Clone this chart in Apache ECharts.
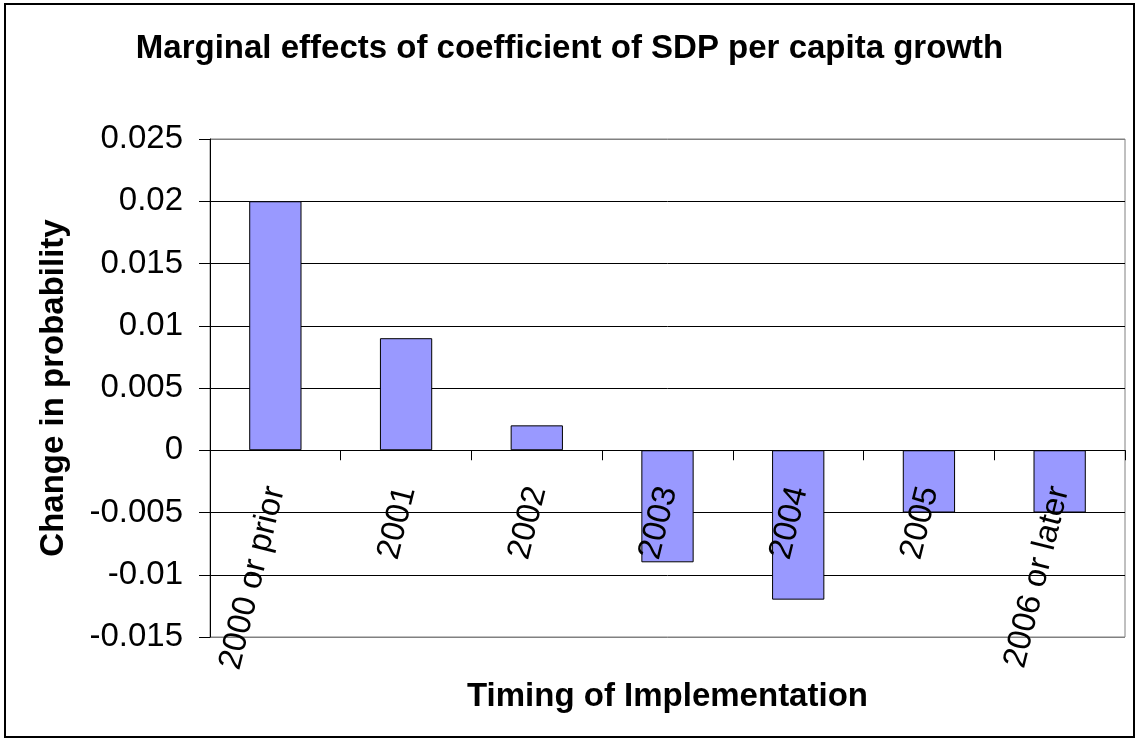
<!DOCTYPE html>
<html>
<head>
<meta charset="utf-8">
<script src="https://cdn.jsdelivr.net/npm/echarts@6/dist/echarts.min.js"></script>
<style>
  html, body { margin: 0; padding: 0; background: #fff; }
  #chart { width: 1139px; height: 742px; }
</style>
</head>
<body>
<div id="chart"></div>
<script>
// Marginal effect of SDP per capita growth by timing of implementation
const categories = ['2000 or prior', '2001', '2002', '2003', '2004', '2005', '2006 or later'];
const marginalEffects = [0.02, 0.009, 0.002, -0.009, -0.012, -0.005, -0.005];
const yMin = -0.015;
const yMax = 0.025;
const yStep = 0.005;

const chart = echarts.init(document.getElementById('chart'), null, { renderer: 'canvas' });

const FONT = 'Liberation Sans, Arial, sans-serif';
const GRID = { left: 210, right: 14, top: 139, bottom: 105 };
// split lines listed bottom to top; outer ones blend with the grey frame
const splitColors = ['#808080', '#000', '#000', '#000', '#000', '#000', '#000', '#000', '#808080'];

chart.setOption({
  animation: false,
  backgroundColor: '#fff',
  title: {
    text: 'Marginal effects of coefficient of SDP per capita growth',
    left: 'center',
    top: 27,
    textStyle: { fontFamily: FONT, fontWeight: 'bold', fontSize: 33, color: '#000' }
  },
  graphic: [{
    type: 'rect',
    shape: { x: 5, y: 4, width: 1129, height: 733 },
    style: { fill: 'none', stroke: '#000', lineWidth: 2 },
    silent: true,
    z: 100
  }],
  grid: Object.assign({
    show: true, borderColor: '#808080', borderWidth: 1, backgroundColor: '#fff',
    containLabel: false,
    outerBoundsMode: 'none'
  }, GRID),
  xAxis: {
    type: 'category',
    data: categories,
    position: 'bottom',
    offset: 0,
    z: 5,
    name: 'Timing of Implementation',
    nameLocation: 'middle',
    nameGap: 230,
    nameTextStyle: { fontFamily: FONT, fontWeight: 'bold', fontSize: 33, color: '#000' },
    axisLine: { show: true, onZero: false, lineStyle: { color: '#000', width: 1 } },
    axisTick: { show: true, length: 10, lineStyle: { color: '#000' } },
    axisLabel: {
      rotate: 76, interval: 0, margin: 37,
      fontFamily: FONT, fontSize: 33, color: '#000'
    },
    splitLine: { show: false }
  },
  yAxis: {
    type: 'value',
    min: yMin, max: yMax, interval: yStep,
    name: 'Change in probability',
    nameLocation: 'middle',
    nameGap: 140,
    nameRotate: 90,
    nameTextStyle: { fontFamily: FONT, fontWeight: 'bold', fontSize: 33, color: '#000' },
    axisLine: { show: true, lineStyle: { color: '#000', width: 1 } },
    axisTick: { show: true, length: 11, lineStyle: { color: '#000' } },
    axisLabel: {
      margin: 27,
      fontFamily: FONT, fontSize: 33, color: '#000',
      formatter: v => String(parseFloat(v.toFixed(3)))
    },
    splitLine: { show: true, lineStyle: { color: splitColors, width: 1 } }
  },
  series: [{
    type: 'bar',
    data: marginalEffects,
    barWidth: '40%',
    itemStyle: { color: '#9999FF', borderColor: '#000', borderWidth: 1 },
    z: 2
  }]
});

// Lift the category axis (line, ticks, labels, name) up to the zero value line
const zeroY = chart.convertToPixel({ yAxisIndex: 0 }, 0);
const gridBottomY = chart.getHeight() - GRID.bottom;
chart.setOption({ xAxis: { offset: zeroY - gridBottomY } });
</script>
</body>
</html>
